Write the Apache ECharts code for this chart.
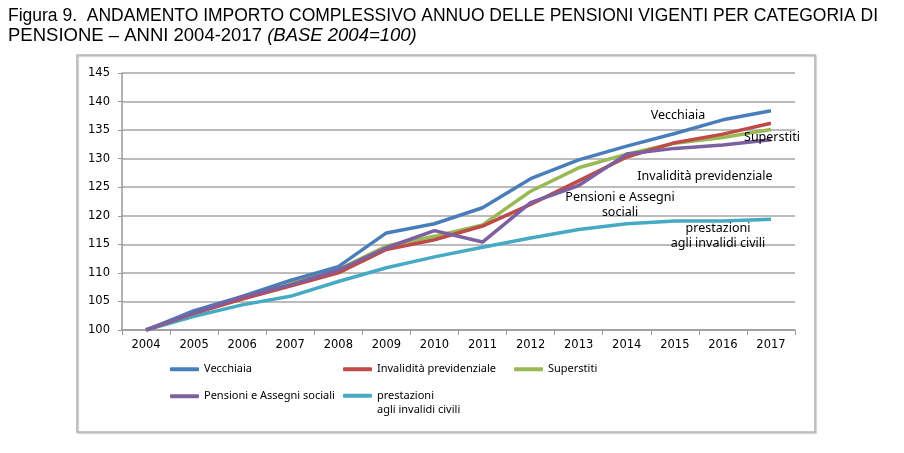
<!DOCTYPE html>
<html>
<head>
<meta charset="utf-8">
<script src="https://cdn.jsdelivr.net/npm/echarts@6/dist/echarts.min.js"></script>
<style>
  html, body { margin: 0; padding: 0; background: #fff; }
  #chart { width: 904px; height: 453px; }
</style>
</head>
<body>
<div id="chart"></div>
<script>
// anni
const years = ['2004', '2005', '2006', '2007', '2008', '2009', '2010', '2011', '2012', '2013', '2014', '2015', '2016', '2017']

// indici base 2004 = 100
const vecchiaia = [100, 103.4, 105.9, 108.7, 111.1, 117.0, 118.6, 121.4, 126.5, 129.8, 132.2, 134.4, 136.8, 138.4]
const invalidita = [100, 102.9, 105.4, 107.7, 110.0, 114.1, 115.8, 118.2, 122.0, 126.1, 130.3, 132.8, 134.3, 136.2]
const superstiti = [100, 102.9, 105.6, 108.3, 110.6, 114.7, 116.4, 118.4, 124.3, 128.4, 130.8, 132.7, 133.7, 135.1]
const sociali = [100, 103.0, 105.8, 107.9, 110.5, 114.4, 117.4, 115.4, 122.3, 125.3, 130.8, 131.8, 132.4, 133.3]
const civili = [100, 102.4, 104.4, 105.9, 108.5, 110.9, 112.8, 114.5, 116.1, 117.6, 118.6, 119.1, 119.1, 119.4]

const yTicks = { min: 100, max: 145, step: 5 }

const names = ['Vecchiaia', 'Invalidità previdenziale', 'Superstiti', 'Pensioni e Assegni sociali', 'prestazioni\nagli invalidi civili']
const colors = ['#4a7ebb', '#be4b48', '#98b954', '#7d60a0', '#46aac5']
const values = [vecchiaia, invalidita, superstiti, sociali, civili]

const sans = 'Liberation Sans'
const noto = 'Noto Sans'
const verdana = 'DejaVu Sans'

const myChart = echarts.init(document.getElementById('chart'))

// una legenda per voce, così le colonne restano dove sono nell'originale
const legendPos = [
  { left: 170, top: 362 },
  { left: 343, top: 362 },
  { left: 514, top: 362 },
  { left: 170, top: 389 },
  { left: 343, top: 374 }
]
const legends = names.map((n, i) => ({
  data: [n],
  left: legendPos[i].left,
  top: legendPos[i].top,
  icon: 'roundRect',
  itemWidth: 29,
  itemHeight: 4,
  padding: 0,
  // l'ultima voce va a capo: riga vuota sopra per allineare la prima riga all'icona
  formatter: i === 4 ? ' \n' + n : n,
  textStyle: { fontFamily: noto, fontSize: 11, color: '#000', lineHeight: 14.5 }
}))

const series = names.map((n, i) => ({
  name: n,
  type: 'line',
  data: values[i],
  symbol: 'none',
  smooth: false,
  color: colors[i],
  lineStyle: { width: 3.5, color: colors[i] },
  z: i === 3 ? 6 : 5 - i
}))

const annotation = (text, x, y) => ({
  type: 'text',
  x,
  y,
  style: {
    text,
    fill: '#000',
    font: '12.5px "Noto Sans"',
    textAlign: 'center',
    textVerticalAlign: 'middle',
    lineHeight: 15
  },
  z: 100
})

const option = {
  animation: false,
  title: {
    left: 8,
    top: 6,
    padding: 0,
    text: '{a|Figura 9.  ANDAMENTO IMPORTO COMPLESSIVO ANNUO DELLE PENSIONI VIGENTI PER CATEGORIA DI}\n{b|PENSIONE – ANNI 2004-2017 }{i|(BASE 2004=100)}',
    textStyle: {
      fontFamily: sans,
      fontWeight: 'normal',
      fontSize: 18,
      lineHeight: 20,
      color: '#000',
      rich: {
        a: { fontFamily: sans, fontSize: 17.5, lineHeight: 20, color: '#000' },
        b: { fontFamily: sans, fontSize: 18.5, lineHeight: 20, color: '#000' },
        i: { fontFamily: sans, fontStyle: 'italic', fontSize: 18.5, lineHeight: 20, color: '#000' }
      }
    }
  },
  grid: { left: 122, right: 109, top: 73, bottom: 123 },
  legend: legends,
  xAxis: {
    type: 'category',
    data: years,
    boundaryGap: true,
    axisLine: { lineStyle: { color: '#999', width: 1.5 } },
    axisTick: { show: true, length: 5, lineStyle: { color: '#999' } },
    axisLabel: { fontFamily: verdana, fontSize: 11.5, color: '#000', margin: 9 }
  },
  yAxis: {
    type: 'value',
    min: yTicks.min,
    max: yTicks.max,
    interval: yTicks.step,
    axisLine: { show: true, lineStyle: { color: '#999', width: 1.5 } },
    axisTick: { show: true, length: 4, lineStyle: { color: '#999' } },
    axisLabel: { fontFamily: verdana, fontSize: 11.5, color: '#000', margin: 12 },
    splitLine: { lineStyle: { color: '#a6a6a6', width: 1.5 } }
  },
  series,
  graphic: [
    {
      type: 'rect',
      shape: { x: 77, y: 55, width: 738, height: 377 },
      style: {
        fill: 'none',
        stroke: '#b5b5b5',
        lineWidth: 1.5,
        shadowColor: 'rgba(0,0,0,0.25)',
        shadowOffsetX: 1,
        shadowOffsetY: 1,
        shadowBlur: 1
      },
      z: -1
    },
    annotation('Vecchiaia', 678, 115),
    annotation('Superstiti', 772, 137),
    annotation('Invalidità previdenziale', 705, 176),
    annotation('Pensioni e Assegni\nsociali', 620, 205),
    annotation('prestazioni\nagli invalidi civili', 718, 236)
  ]
}

myChart.setOption(option)
</script>
</body>
</html>
